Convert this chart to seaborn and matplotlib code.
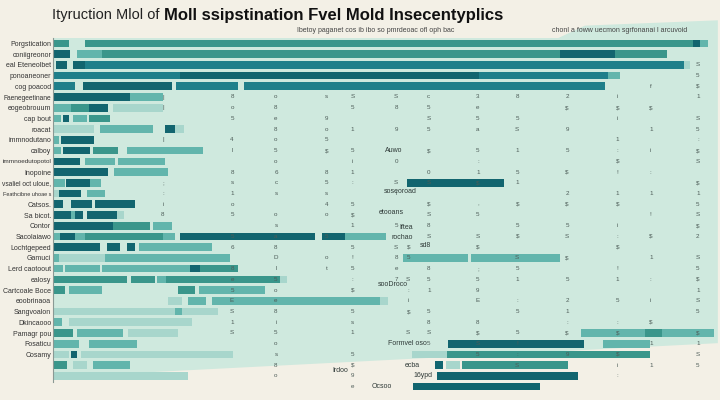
import numpy as np
import pandas as pd
import matplotlib
matplotlib.use("Agg")
import matplotlib.pyplot as plt
import seaborn as sns
from matplotlib.patches import Polygon

# --- data (x in 0-100 units, rows counted from top) ---
row_labels = [
    "Porgstication", "coniigreonor", "eal Eteneolbet", "ponoaneoner", "cog poacod",
    "Faenegeetinane", "eogeobrouum", "cap bout", "roacat", "immnodutano",
    "calboy", "immnoedutopotol", "Inopoine", "vsaliel oct uloue,", "Feathcibne uhoae s",
    "Catsos.", "Sa bicot.", "Contor", "Sacolaiawo", "Lochtgepeed",
    "Gamuci", "Lerd caotoout", "ealosy", "Cartcoale Boce", "eoobrinaoa",
    "Sangvoalon", "Dkincaooo", "Pamagr pou", "Fosaticu", "Cosamy",
    "", "", "",
]

seg_row = [1, 1, 1, 1,
           2, 2, 2, 2, 2,
           3, 3, 3, 3,
           4, 4, 4, 4,
           5, 5, 5, 5,
           6, 6,
           7, 7, 7, 7,
           8, 8, 8, 8,
           9, 9, 9, 9,
           10, 10,
           11, 11, 11, 11,
           12, 12, 12,
           13, 13,
           14, 14, 14, 14,
           15, 15, 15,
           16, 16, 16,
           17, 17, 17, 17, 17,
           18, 18, 18,
           19, 19, 19, 19, 19, 19, 19, 19,
           20, 20, 20, 20,
           21, 21, 21, 21, 21, 21, 21,
           22, 22, 22, 22, 22,
           23, 23, 23, 23, 23,
           24, 24, 24, 24,
           25, 25, 25, 25,
           26, 26, 26,
           27, 27,
           28, 28, 28, 28, 28, 28,
           29, 29, 29, 29,
           30, 30, 30, 30, 30,
           31, 31, 31, 31, 31, 31,
           32, 32,
           33]
seg_start = [0, 4.7, 96.2, 97.3,
             0, 3.6, 7.4, 76.2, 84.5,
             0.4, 2.9, 4.8, 94.9,
             0, 19, 64, 83.5,
             0, 4.4, 18.5, 28.7,
             0, 11.6,
             0, 2.6, 5.3, 9,
             0, 1.5, 2.9, 5.3,
             0, 7, 16.8, 18.3,
             0, 1.2,
             0, 1.4, 6, 11.1,
             0, 4.7, 9.8,
             0, 9.2,
             0, 1.9, 5.6, 53.2,
             0, 0.8, 5,
             0, 2.7, 6.3,
             0, 2.6, 3.3, 5, 9.6,
             0, 9, 15,
             0, 1, 3.3, 4.8, 16.5, 19, 40.4, 43.9,
             0, 8.1, 11.1, 12.9,
             0, 0.8, 4.1, 7.8, 52.6, 53.4, 62.9,
             0, 1.8, 7.4, 20.6, 22.1,
             0, 11.7, 15.6, 17, 34.1,
             0, 2.3, 18.8, 22,
             17.3, 20.3, 23.9, 49.2,
             0, 18.3, 19.4,
             0, 2.3,
             0, 3.6, 11.3, 79.4, 89, 91.6,
             0, 5.3, 59.4, 82.7,
             0, 2.6, 4.1, 54, 59.2,
             0, 2.9, 6, 57.4, 59.1, 61.5,
             0, 57.7,
             54.1]
seg_end = [2.4, 96.2, 97.3, 98.5,
           2.5, 7.4, 76.2, 84.5, 92.3,
           2, 4.8, 94.9, 95.8,
           19, 64, 83.5, 85.3,
           3.3, 17.9, 27.8, 83,
           11.6, 16.5,
           2.6, 5.3, 8.3, 16.5,
           1.2, 2.4, 5.1, 8.6,
           6.2, 15, 18.3, 19.6,
           0.8, 6.2,
           1.1, 5.6, 9.8, 22.5,
           4, 9.3, 16.8,
           8.3, 17.3,
           1.8, 5.6, 7.2, 67.8,
           0.8, 4.1, 7.8,
           1.4, 5.9, 12.3,
           2.6, 3.3, 4.4, 9.6, 10.7,
           9, 14.6, 17.9,
           1, 3.3, 4.8, 16.5, 18.3, 39.4, 43.9, 50.1,
           7.1, 10.1, 12.3, 23.9,
           0.8, 4.1, 7.8, 26.6, 53.4, 62.4, 76.2,
           1.5, 7.1, 20.6, 22.1, 27.8,
           11.1, 15.3, 17, 34.1, 35.2,
           1.7, 7.4, 21.4, 31.9,
           19.4, 23, 49.2, 50.3,
           18.3, 19.4, 24.8,
           1.3, 20.9,
           2.9, 10.5, 18.8, 89, 91.6, 99.4,
           3.9, 12.6, 79.8, 89.8,
           2.3, 3.6, 27.1, 59.2, 89.8,
           2.1, 5.1, 11.6, 58.6, 61.2, 77.4,
           20.3, 78.9,
           73.2]
seg_tone = ("mmdl" "dlmdm" "ddbp" "bdbl" "bdbb" "dl" "lmdp" "ldlm" "pldp" "ld"
            "ldml" "dll" "dl" "ldld" "pdl" "ddd" "dlddp" "dml" "ldlmlddl" "dddl"
            "lppllll" "llldm" "mmlmp" "mlml" "pllp" "plp" "lp" "mlplml" "lldl"
            "pdppm" "mpldpm" "pd" "d")

# columns of tiny characters running down the chart (one glyph per row)
vcol_x = [16.5, 26.9, 33.5, 41.1, 45.0, 51.6, 53.4, 56.5, 63.9, 69.8, 77.3, 84.9, 89.9, 97.0]
vcol_first = [6, 6, 6, 6, 6, 6, 18, 6, 6, 6, 6, 6, 5, 3]
vcol_chars = [
    "||  |   ;:i8",
    "8o5 4l 8s1o5 56 8e5ES1S",
    "o8e8o5o6cs osa8Dl5oe8i5os8o",
    "s 9o5$ 85s4o 5 ot",
    "S5 1 5i1: 5$1 5!5:$ 5s1 5$9e",
    "S8 9  0 Sl  5 S8e7",
    "  $5 S:i$ S ",
    "c5S5 $ 0S $S8S  851 58S5",
    "3e5a 5:1$ ,5 S$ ;59E 8$S5",
    "8 5S 1 51 $ 5$ S51 :5 5!:S",
    "2$ 9 5 $ 2$ 5S $ 5 21:$ 9",
    "i$i 1:$! 1$ i:$ !1 5 :$ $i:",
    "f $ 1 i : 1 ! $ 1 : i $ 1 1",
    "S5$1 S5:$S $15S$2 S5$1S5 $1S5",
]

# small captions sitting among the bars
note_text = ["Auwo", "soseoroad", "etooans", "Iftea", "rochao", "sd8",
             "sooDroco", "Formvel oso", "ecba", "16ypd", "Ocsoo", "Irdoo"]
note_x = [52.5, 54.7, 52.8, 54.1, 54.1, 55.2, 53.4, 56.2, 55.2, 57.1, 51.0, 44.4]
note_row = [11, 14.8, 16.8, 18.2, 19.1, 19.8, 23.5, 29, 31, 32, 33, 31.5]
note_ha = ["right"] * 5 + ["left"] + ["right"] * 6

tone_colors = {"d": "#12656f", "b": "#1f7f8a", "m": "#3a968b",
               "l": "#62b5ac", "p": "#a8d6cc"}
mint = "#cfe9de"
cream = "#f3f0e6"

sns.set_theme(style="white")
plt.rcParams["font.family"] = ["Liberation Sans", "DejaVu Sans"]

df = pd.DataFrame({"row": seg_row, "start": seg_start, "end": seg_end,
                   "tone": list(seg_tone)})
df["color"] = df["tone"].map(tone_colors)

fig = plt.figure(figsize=(7.2, 4), dpi=100, facecolor=cream)
ax = fig.add_axes([0.074, 0.02, 0.923, 0.885])
ax.patch.set_visible(False)

# mint backdrop with its slanted lower edge
ax.add_patch(Polygon([(0, 1.0), (0.76, 1.0), (0.80, 1.035), (1.0, 1.05),
                      (1.0, 0.138), (0, 0.042)],
                     closed=True, transform=ax.transAxes, facecolor=mint,
                     edgecolor="none", zorder=0, clip_on=False))

ax.barh(df["row"], df["end"] - df["start"], left=df["start"],
        color=df["color"], height=0.72, zorder=2, linewidth=0)

n_rows = len(row_labels)
for x, first, chars in zip(vcol_x, vcol_first, vcol_chars):
    for i, ch in enumerate(chars[:n_rows - first + 1]):
        if ch != " ":
            ax.text(x, first + i, ch, fontsize=4.5, color="#4d5c58",
                    ha="center", va="center", zorder=3)

for t, x, r, ha in zip(note_text, note_x, note_row, note_ha):
    ax.text(x, r, t, fontsize=5, color="#2f3a38", ha=ha, va="center", zorder=4)

ax.set_xlim(0, 100)
ax.set_ylim(33.5, 0.5)
ax.set_yticks(range(1, n_rows + 1))
ax.set_yticklabels(row_labels, fontsize=5.0, color="#333333")
ax.tick_params(axis="y", length=0, pad=1.5)
ax.set_xticks([])
for side in ["top", "right", "bottom"]:
    ax.spines[side].set_visible(False)
ax.spines["left"].set_color("#8a9994")
ax.spines["left"].set_linewidth(0.8)
ax.spines["left"].set_bounds(0.5, 32.6)

# title in two weights
t1 = fig.text(0.072, 0.962, "Ityruction Mlol of", fontsize=10.5,
              color="#222222", va="center", ha="left")
fig.canvas.draw()
renderer = fig.canvas.get_renderer()
bb = t1.get_window_extent(renderer)
fig.text(bb.x1 / fig.bbox.width + 0.006, 0.962,
         "Moll ssipstination Fvel Mold Insecentyplics", fontsize=12,
         fontweight="bold", color="#111111", va="center", ha="left")

# shrink the few long row labels so they stay inside the figure
for lab in ax.get_yticklabels():
    while lab.get_window_extent(renderer).x0 < 1 and lab.get_fontsize() > 3.5:
        lab.set_fontsize(lab.get_fontsize() - 0.2)

fig.text(0.522, 0.925, "Ibetoy paganet cos ib ibo so pmrdeoac ofl oph bac",
         fontsize=5, color="#444444", ha="center", va="center")
fig.text(0.861, 0.925, "chonl a foww uecmon sgrfonanai l arcuvoid",
         fontsize=5, color="#444444", ha="center", va="center")

fig.savefig("out.png", dpi=100, facecolor=cream)
